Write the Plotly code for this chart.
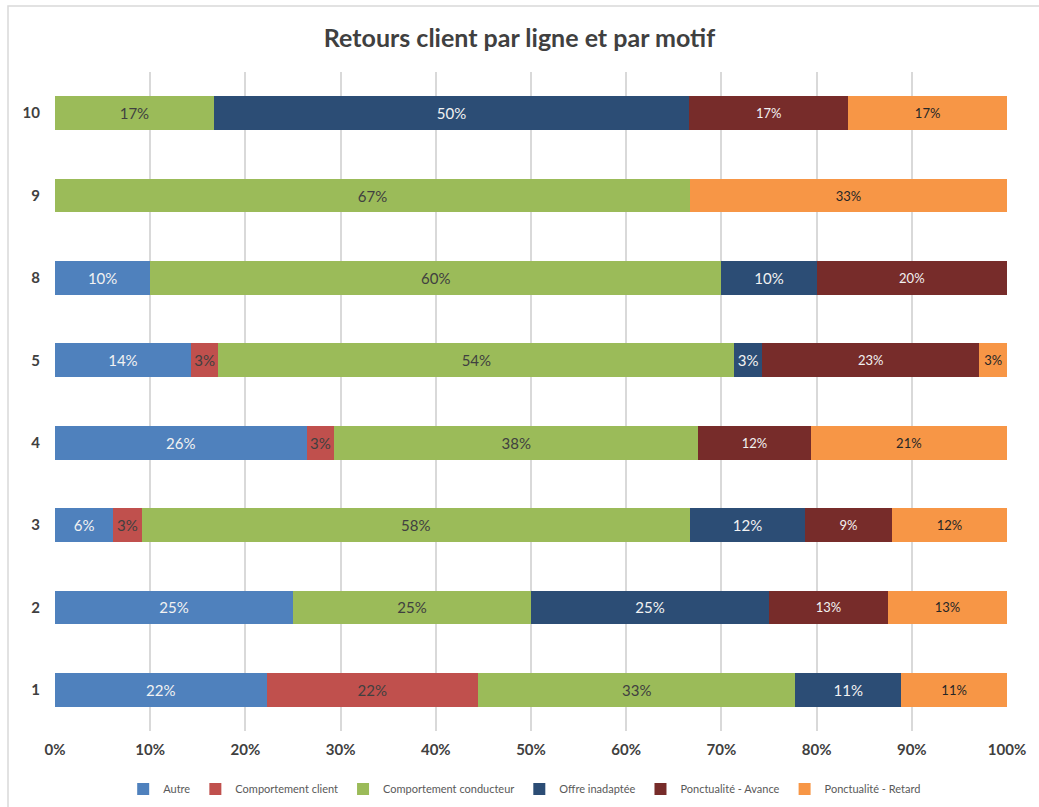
import plotly.graph_objects as go

# Lignes (du bas vers le haut)
lignes = ["1", "2", "3", "4", "5", "8", "9", "10"]

# Part de chaque motif par ligne, en %
autre = [22.2, 25.0, 6.1, 26.4, 14.3, 10.0, 0.0, 0.0]
comportement_client = [22.2, 0.0, 3.0, 2.9, 2.9, 0.0, 0.0, 0.0]
comportement_conducteur = [33.3, 25.0, 57.6, 38.2, 54.3, 60.0, 66.7, 16.7]
offre_inadaptee = [11.1, 25.0, 12.1, 0.0, 2.9, 10.0, 0.0, 50.0]
ponctualite_avance = [0.0, 12.5, 9.1, 11.8, 22.9, 20.0, 0.0, 16.7]
ponctualite_retard = [11.1, 12.5, 12.1, 20.6, 2.9, 0.0, 33.3, 16.7]

series = [
    ("Autre", autre, "#4F81BD", "#F2F2F2", 15),
    ("Comportement client", comportement_client, "#C0504D", "#404040", 15),
    ("Comportement conducteur", comportement_conducteur, "#9BBB59", "#404040", 15),
    ("Offre inadaptée", offre_inadaptee, "#2C4D75", "#F2F2F2", 15),
    ("Ponctualité - Avance", ponctualite_avance, "#772C2A", "#F2F2F2", 13),
    ("Ponctualité - Retard", ponctualite_retard, "#F79646", "#262626", 13),
]

FONT = "Lato, 'Open Sans', sans-serif"

fig = go.Figure()

for name, values, color, text_color, size in series:
    labels = [f"{int(v + 0.5)}%" if v > 0 else "" for v in values]
    fig.add_trace(
        go.Bar(
            y=lignes,
            x=values,
            name=name,
            orientation="h",
            marker=dict(color=color, line=dict(width=0)),
            text=labels,
            textposition="inside",
            insidetextanchor="middle",
            textangle=0,
            constraintext="none",
            textfont=dict(color=text_color, size=size, family=FONT),
            hovertemplate=f"<b>{name}</b><br>Ligne %{{y}} : %{{x:.1f}}%<extra></extra>",
        )
    )

L, R, T, B = 55, 32, 72, 76
W, H = 1039, 807
pw, ph = W - L - R, H - T - B

# cadre du graphique (bord gauche et haut visibles)
fig.add_shape(
    type="rect", xref="paper", yref="paper",
    x0=(8 - L) / pw, x1=(W + 10 - L) / pw,
    y0=-(H + 10 - (H - B)) / ph, y1=1 + (T - 6) / ph,
    line=dict(color="#D9D9D9", width=1.5), layer="below",
)

fig.update_layout(
    width=W,
    height=H,
    barmode="stack",
    barnorm="percent",
    bargap=0.59,
    plot_bgcolor="white",
    paper_bgcolor="white",
    font=dict(family=FONT, color="#404040"),
    title=dict(
        text="<b>Retours client par ligne et par motif</b>",
        x=0.5,
        xanchor="center",
        y=1 - 38 / H,
        yanchor="middle",
        font=dict(size=25, color="#404040", family=FONT),
    ),
    margin=dict(l=L, r=R, t=T, b=B),
    xaxis=dict(
        range=[0, 100],
        tickvals=[0, 10, 20, 30, 40, 50, 60, 70, 80, 90, 100],
        ticktext=[f"<b>{v}%</b>" for v in range(0, 101, 10)],
        tickfont=dict(size=15, color="#404040"),
        showgrid=True,
        gridcolor="#D9D9D9",
        gridwidth=1.5,
        zeroline=False,
        showline=False,
        ticks="",
        ticklabelstandoff=8,
        fixedrange=True,
    ),
    yaxis=dict(
        type="category",
        categoryorder="array",
        categoryarray=lignes,
        tickvals=lignes,
        ticktext=[f"<b>{c}</b>" for c in lignes],
        tickfont=dict(size=15, color="#404040"),
        showgrid=False,
        showline=False,
        zeroline=False,
        ticks="",
        ticklabelstandoff=14,
        fixedrange=True,
    ),
    legend=dict(
        orientation="h",
        x=0.505,
        xanchor="center",
        xref="container",
        yref="container",
        y=1 - 789 / H,
        yanchor="middle",
        font=dict(size=11, color="#595959"),
        itemwidth=30,
        traceorder="normal",
    ),
    showlegend=True,
)

fig.write_html(
    "out.html",
    config={"displayModeBar": False},
    post_script="document.body.style.margin='0';document.body.style.overflow='hidden';",
)
